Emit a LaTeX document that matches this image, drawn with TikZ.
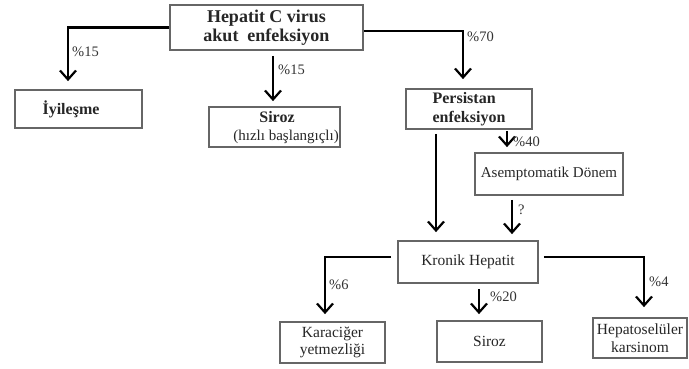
\documentclass[tikz,border=0pt]{standalone}
\usepackage{fontspec}
\setmainfont{Liberation Serif}
\usetikzlibrary{arrows.meta}
\begin{document}
\begin{tikzpicture}[x=1pt,y=-1pt,
  box/.style={draw=black!60, line width=1.7pt, inner sep=0pt, align=center, text=black!85},
  txt/.style={inner sep=0pt, align=center, text=black!85},
  arr/.style={draw=black, line width=2.2pt, -{Straight Barb[length=9pt,width=16pt,line width=2.2pt]}},
  lbl/.style={anchor=west, inner sep=0pt, font=\fontsize{14.5}{16}\selectfont, text=black!80},
  bf/.style={font=\fontsize{16}{18.5}\selectfont\bfseries},
  rg/.style={font=\fontsize{15.5}{17.5}\selectfont}]
\useasboundingbox (0,0) rectangle (689,369);
\node[box, minimum width=193pt, minimum height=45pt, font=\fontsize{18}{19.5}\selectfont\bfseries] (top) at (266.5,27.5) {Hepatit C virus\\akut\ \ enfeksiyon};
\node[box, bf, minimum width=127pt, minimum height=38pt] (iyi) at (78.5,109) {\hspace{-15pt}İyileşme};
\node[box, minimum width=131pt, minimum height=40pt] (sir1) at (274.5,127) {};
\node[txt, font=\fontsize{16}{18}\selectfont\bfseries, anchor=base] (sir1a) at (277,123) {Siroz};
\node[txt, font=\fontsize{15}{17}\selectfont, anchor=base east] (sir1b) at (339,140.5) {(hızlı başlangıçlı)};
\node[box, bf, minimum width=126pt, minimum height=40pt, align=left] (pers) at (469,109) {Persistan\\enfeksiyon};
\node[box, minimum width=148pt, minimum height=42pt, font=\fontsize{15}{17}\selectfont] (asem) at (549,174) {Asemptomatik Dönem};
\node[box, minimum width=140pt, minimum height=42pt, font=\fontsize{15.5}{17}\selectfont] (kron) at (468,262) {Kronik Hepatit};
\node[box, rg, minimum width=105pt, minimum height=41pt] (kara) at (332.5,342.5) {Karaciğer\\yetmezliği};
\node[box, rg, minimum width=105pt, minimum height=41pt] (sir2) at (489.5,341.5) {Siroz};
\node[box, rg, minimum width=94pt, minimum height=40pt] (hep) at (640,338) {Hepatoselüler\\karsinom};

\draw[arr, shorten >=8pt] (top.west) -| ([xshift=-10.5pt]iyi.north);
\draw[arr, shorten <=5pt, shorten >=5pt] ([xshift=6.5pt]top.south) -- ([xshift=-1.5pt]sir1.north);
\draw[arr, shorten >=9pt] ([yshift=-3.5pt]top.east) -| ([xshift=-6pt]pers.north);
\draw[arr, shorten <=4pt, shorten >=8pt] ([xshift=-33pt]pers.south) -- ([xshift=-32pt]kron.north);
\draw[arr, shorten <=1pt, shorten >=5pt] ([xshift=38pt]pers.south) -- ([xshift=-42pt]asem.north);
\draw[arr, shorten <=4pt, shorten >=6pt] ([xshift=-37pt]asem.south) -- ([xshift=44pt]kron.north);
\draw[arr, shorten <=6pt, shorten >=7pt] ([yshift=5pt]kron.west) -| ([xshift=-7.5pt]kara.north);
\draw[arr, shorten <=5pt, shorten >=6pt] ([xshift=11pt]kron.south) -- ([xshift=-10.5pt]sir2.north);
\draw[arr, shorten <=5pt, shorten >=10pt] ([yshift=5pt]kron.east) -| ([xshift=4pt]hep.north);

\node[lbl] (l1) at (72,52) {\%15};
\node[lbl] (l2) at (278,70) {\%15};
\node[lbl] (l3) at (467,37) {\%70};
\node[lbl] (l4) at (513,142) {\%40};
\node[lbl] (l5) at (518,210) {?};
\node[lbl] (l6) at (329,285) {\%6};
\node[lbl] (l7) at (490,297) {\%20};
\node[lbl] (l8) at (649,282) {\%4};
\end{tikzpicture}
\end{document}
